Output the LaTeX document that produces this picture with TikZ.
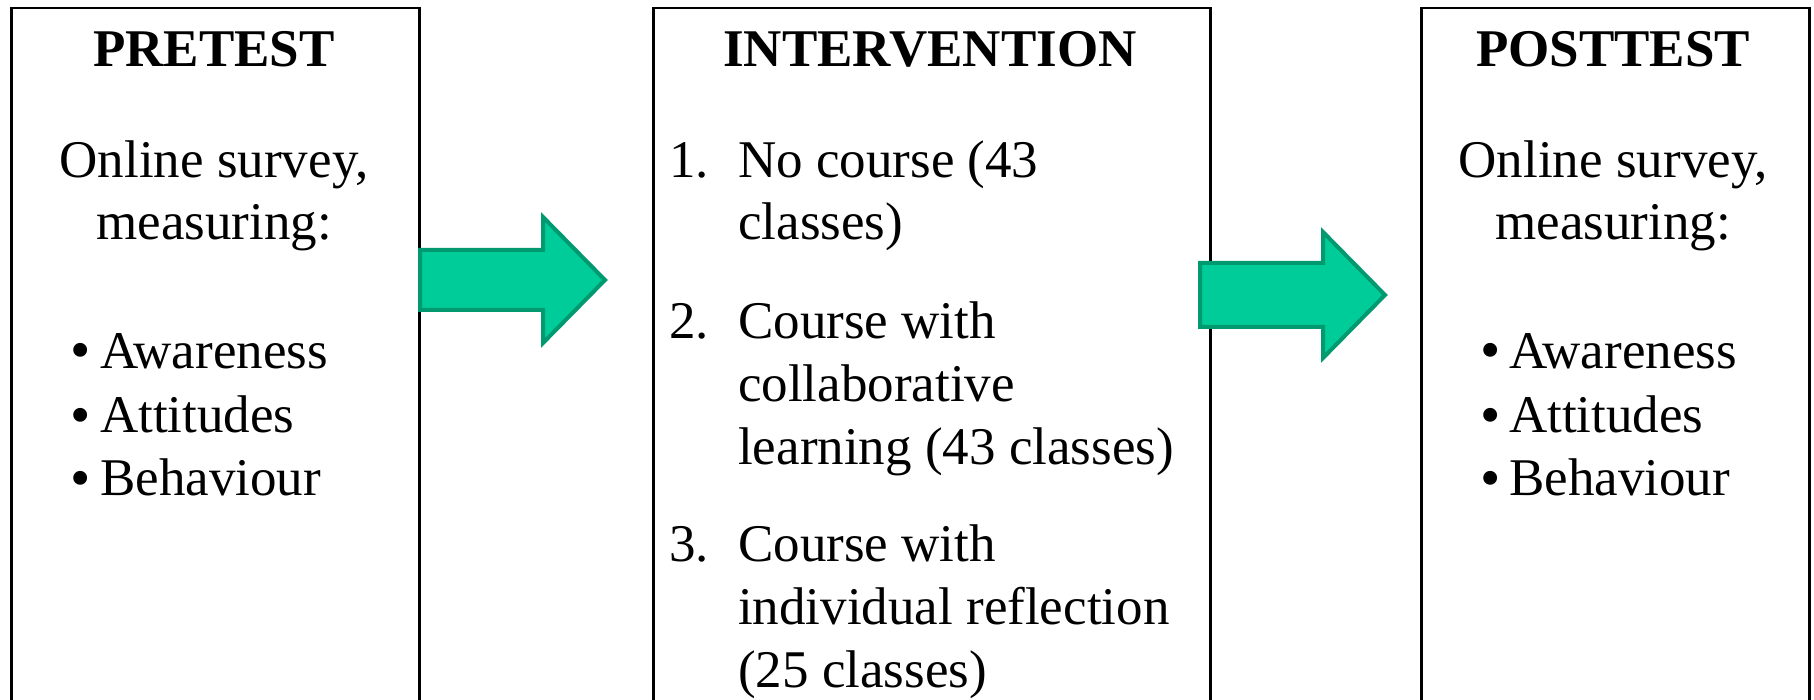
\documentclass[tikz,border=0pt]{standalone}
\usepackage{fontspec}
\setmainfont{Liberation Serif}
\definecolor{arrowfill}{HTML}{00CC99}
\definecolor{arrowline}{HTML}{009970}
\tikzset{
  frame/.style={draw=black, line width=2.5pt, anchor=north west, inner sep=0pt},
  blockarrow/.style={fill=arrowfill, draw=arrowline, line width=4pt, line join=miter},
  head/.style={font=\fontsize{53}{62}\selectfont\bfseries, anchor=base, inner sep=0pt},
  txt/.style={font=\fontsize{53}{62}\selectfont, anchor=base, inner sep=0pt},
  txtl/.style={txt, anchor=base west},
  dot/.style={txt, font=\fontsize{58}{62}\selectfont, anchor=base west},
}
\begin{document}
\begin{tikzpicture}[x=1pt, y=-1pt]
\useasboundingbox (0,0) rectangle (1814,700);
\fill[white] (0,0) rectangle (1814,700);

% the three stage columns (open at the bottom edge)
\node[frame, minimum width=408pt, minimum height=760pt] (pre)  at (10,7)   {};
\node[frame, minimum width=557pt, minimum height=760pt] (int)  at (652,7)  {};
\node[frame, minimum width=388pt, minimum height=760pt] (post) at (1420,7) {};

% block arrows between the stages
\draw[blockarrow] (420,250) -- (543,250) -- (543,217) -- (605,280) -- (543,343) -- (543,310) -- (420,310) -- cycle;
\draw[blockarrow] (1200,263) -- (1323,263) -- (1323,232) -- (1385,295) -- (1323,358) -- (1323,327) -- (1200,327) -- cycle;

% pretest
\node[head] (preT) at (214,67) {PRETEST};
\node[txt] (preA) at (214,178) {Online survey,};
\node[txt] (preB) at (214,240) {measuring:};
\node[dot] (preb1) at (70,370) {\textbullet};
\node[txtl] (prei1) at (100,368) {Awareness};
\node[dot] (preb2) at (70,434) {\textbullet};
\node[txtl] (prei2) at (100,432) {Attitudes};
\node[dot] (preb3) at (70,497) {\textbullet};
\node[txtl] (prei3) at (100,495) {Behaviour};

% intervention
\node[head] (intT) at (930,67) {INTERVENTION};
\node[txtl] (n1) at (669,178) {1.};
\node[txtl] (i1a) at (738,178) {No course (43};
\node[txtl] (i1b) at (738,240) {classes)};
\node[txtl] (n2) at (669,338) {2.};
\node[txtl] (i2a) at (738,338) {Course with};
\node[txtl] (i2b) at (738,401) {collaborative};
\node[txtl] (i2c) at (738,464) {learning (43 classes)};
\node[txtl] (n3) at (669,561) {3.};
\node[txtl] (i3a) at (738,561) {Course with};
\node[txtl] (i3b) at (738,624) {individual reflection};
\node[txtl] (i3c) at (738,687) {(25 classes)};

% posttest
\node[head] (postT) at (1613,67) {POSTTEST};
\node[txt] (postA) at (1613,178) {Online survey,};
\node[txt] (postB) at (1613,240) {measuring:};
\node[dot] (postb1) at (1480,370) {\textbullet};
\node[txtl] (posti1) at (1509,368) {Awareness};
\node[dot] (postb2) at (1480,434) {\textbullet};
\node[txtl] (posti2) at (1509,432) {Attitudes};
\node[dot] (postb3) at (1480,497) {\textbullet};
\node[txtl] (posti3) at (1509,495) {Behaviour};
\end{tikzpicture}
\end{document}
